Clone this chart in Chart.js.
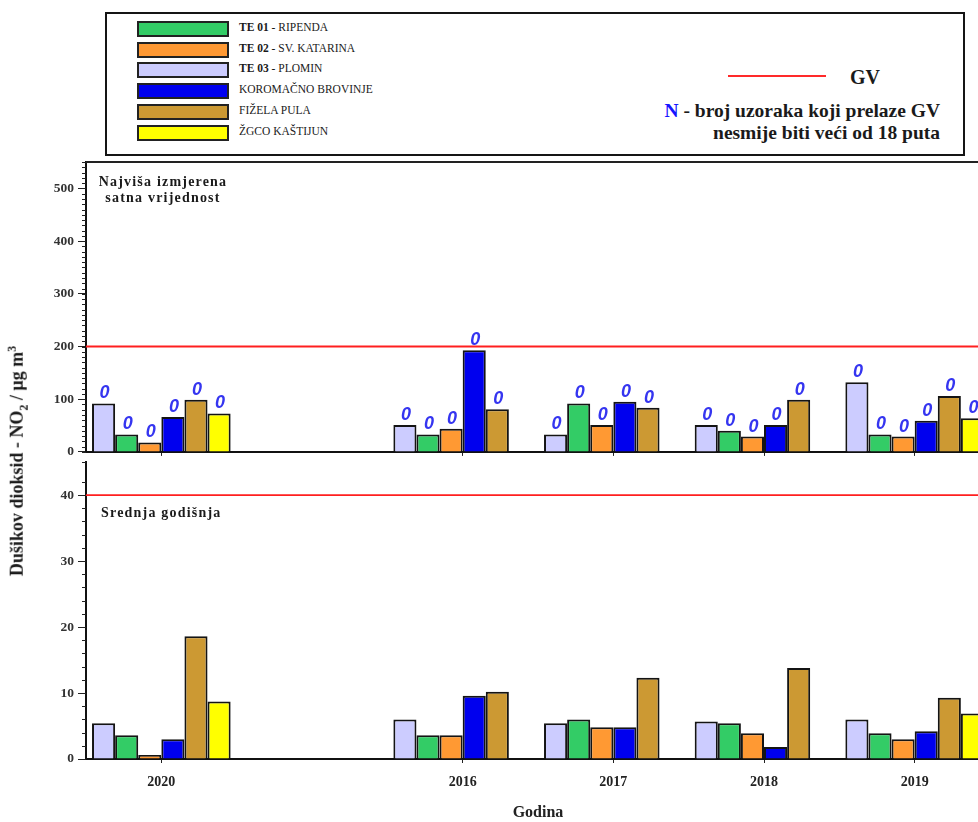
<!DOCTYPE html>
<html>
<head>
<meta charset="utf-8">
<script src="https://cdn.jsdelivr.net/npm/chart.js@4.4.1/dist/chart.umd.min.js"></script>
<style>
  body { margin: 0; width: 978px; height: 822px; overflow: hidden; background: #fff; position: relative;
         font-family: "Liberation Serif", "DejaVu Serif", serif; color: #1a1a1a; }
  .abs { position: absolute; }
  #legend { left: 105px; top: 12px; width: 856px; height: 140px; border: 2px solid #151515; }
  .row { position: absolute; left: 30px; height: 15px; }
  .sw { position: absolute; left: 0; top: 0; width: 88px; height: 12px; border: 2px solid #222; }
  .lab { position: absolute; left: 102px; top: -1px; font-size: 11.5px; white-space: nowrap; line-height: 15px; }
  #gvline { left: 728px; top: 75px; width: 98px; height: 2px; background: #ff2a2a; }
  #gvtext { left: 850px; top: 66px; font-size: 20px; font-weight: bold; }
  #ntext { right: 38px; top: 100px; font-size: 19.5px; font-weight: bold; white-space: nowrap; text-align: right; line-height: 22px; }
  #ytitle { left: 18px; top: 461px; transform: translate(-50%, -50%) rotate(-90deg); white-space: nowrap;
            font-size: 18px; font-weight: bold; }
  #ytitle sub, #ytitle sup { font-size: 12px; }
  .panel { font-size: 14px; font-weight: bold; letter-spacing: 1.2px; text-align: center; line-height: 16px; white-space: nowrap; }
  .wrap { position: absolute; left: 0; width: 1000px; }
</style>
</head>
<body>
<div id="legend" class="abs"></div>
<div id="gvline" class="abs"></div>
<div id="gvtext" class="abs">GV</div>
<div id="ntext" class="abs"><span style="color:#1515ff">N</span> - broj uzoraka koji prelaze GV<br>nesmije biti veći od 18 puta</div>

<div class="wrap" style="top:150px;height:314px"><canvas id="maxChart"></canvas></div>
<div class="wrap" style="top:450px;height:372px"><canvas id="avgChart"></canvas></div>

<div class="abs panel" style="left:88px;top:174px;width:150px">Najviša izmjerena<br>satna vrijednost</div>
<div class="abs panel" style="left:101px;top:505px">Srednja godišnja</div>
<div id="ytitle" class="abs">Dušikov dioksid - NO<sub>2</sub> / μg m<sup>3</sup></div>

<script>
// categories (empty slot between 2020 and 2016)
const years = ['2020', '', '2016', '2017', '2018', '2019'];

const stations = ['TE 03 - PLOMIN', 'TE 01 - RIPENDA', 'TE 02 - SV. KATARINA', 'KOROMAČNO BROVINJE', 'FIŽELA PULA', 'ŽGCO KAŠTIJUN'];
const stationColors = ['#ccccff', '#33cc66', '#ff9933', '#0000ee', '#cc9933', '#ffff00'];
const legendOrder = [1, 2, 0, 3, 4, 5];

// highest measured hourly value
const plominMax    = [92, null, 51, 33, 51, 132];
const ripendaMax   = [33, null, 33, 92, 40, 33];
const katarinaMax  = [18, null, 44, 51, 29, 29];
const koromacnoMax = [66, null, 193, 95, 51, 59];
const fizelaMax    = [99, null, 81, 84, 99, 106];
const zgcoMax      = [73, null, null, null, null, 64];

// N - number of samples above GV
const plominN    = [0, null, 0, 0, 0, 0];
const ripendaN   = [0, null, 0, 0, 0, 0];
const katarinaN  = [0, null, 0, 0, 0, 0];
const koromacnoN = [0, null, 0, 0, 0, 0];
const fizelaN    = [0, null, 0, 0, 0, 0];
const zgcoN      = [0, null, null, null, null, 0];

// annual mean
const plominAvg    = [5.4, null, 6.0, 5.4, 5.7, 6.0];
const ripendaAvg   = [3.6, null, 3.6, 6.0, 5.4, 3.9];
const katarinaAvg  = [0.6, null, 3.6, 4.8, 3.9, 3.0];
const koromacnoAvg = [3.0, null, 9.6, 4.8, 1.8, 4.2];
const fizelaAvg    = [18.6, null, 10.2, 12.3, 13.8, 9.3];
const zgcoAvg      = [8.7, null, null, null, null, 6.9];

const hourlyLimit = 200;
const annualLimit = 40;
const maxTicks = [0, 100, 200, 300, 400, 500];
const avgTicks = [0, 10, 20, 30, 40];

// ---- legend box ----
const legendEl = document.getElementById('legend');
legendOrder.forEach((si, r) => {
    const name = stations[si];
    const label = name.startsWith('TE 0') ? '<b>' + name.slice(0, 5) + '</b>' + name.slice(5) : name;
    const row = document.createElement('div');
    row.className = 'row';
    row.style.top = (7 + r * 20.7) + 'px';
    row.innerHTML = `<div class="sw" style="background:${stationColors[si]}"></div><div class="lab">${label}</div>`;
    legendEl.appendChild(row);
});

// ---- decorations: minor ticks, GV line, N labels, top frame ----
const panelDecor = {
    id: 'panelDecor',
    afterDatasetsDraw(chart, args, opts) {
        const { ctx, chartArea: a, scales: { y } } = chart;
        ctx.save();
        ctx.strokeStyle = '#222';
        ctx.lineWidth = 1;
        y.ticks.forEach(t => {
            const py = Math.round(y.getPixelForValue(t.value)) + 0.5;
            ctx.beginPath();
            ctx.moveTo(a.left - 4, py);
            ctx.lineTo(a.left, py);
            ctx.stroke();
        });

        const ly = y.getPixelForValue(opts.limit);
        ctx.strokeStyle = '#ff1f1f';
        ctx.lineWidth = 1.8;
        ctx.beginPath();
        ctx.moveTo(a.left, ly);
        ctx.lineTo(a.right, ly);
        ctx.stroke();

        if (opts.counts) {
            ctx.fillStyle = '#3535f0';
            ctx.font = 'italic bold 18px "Liberation Sans", Arial, sans-serif';
            ctx.textAlign = 'center';
            ctx.textBaseline = 'bottom';
            chart.data.datasets.forEach((ds, di) => {
                chart.getDatasetMeta(di).data.forEach((bar, i) => {
                    if (ds.data[i] == null || opts.counts[di][i] == null) return;
                    ctx.fillText(String(opts.counts[di][i]), bar.x + 1, bar.y - 1);
                });
            });
        }

        if (opts.frameTop) {
            ctx.strokeStyle = '#222';
            ctx.lineWidth = 2;
            ctx.beginPath();
            ctx.moveTo(a.left, a.top);
            ctx.lineTo(a.right + 20, a.top);
            ctx.stroke();
        }
        ctx.restore();
    }
};

function makeDatasets(series) {
    return series.map((data, i) => ({
        label: stations[i],
        data: data,
        backgroundColor: stationColors[i],
        borderColor: '#141414',
        borderWidth: 2,
        barPercentage: 1.0,
        categoryPercentage: 0.92
    }));
}

const tickFont = { family: '"Liberation Serif", serif', weight: 'bold', size: 13.5 };

function yScale(max, step, labels) {
    return {
        min: 0,
        max: max,
        afterFit: s => { s.width = 86; },
        ticks: {
            stepSize: step,
            autoSkip: false,
            padding: 4,
            color: '#333',
            font: tickFont,
            callback: v => labels.includes(v) ? v : ''
        },
        grid: {
            drawOnChartArea: false,
            tickLength: 8,
            tickColor: c => (c.tick && labels.includes(c.tick.value)) ? '#222' : 'transparent'
        },
        border: { color: '#111', width: 2 }
    };
}

const xGrid = {
    drawOnChartArea: false,
    offset: false,
    tickLength: 4,
    tickColor: c => years[c.index] ? '#222' : 'transparent'
};

new Chart(document.getElementById('maxChart'), {
    type: 'bar',
    data: {
        labels: years,
        datasets: makeDatasets([plominMax, ripendaMax, katarinaMax, koromacnoMax, fizelaMax, zgcoMax])
    },
    options: {
        responsive: true,
        maintainAspectRatio: false,
        animation: false,
        layout: { padding: { top: 8, right: 10, left: 0, bottom: 0 } },
        plugins: {
            legend: { display: false },
            tooltip: { enabled: false },
            panelDecor: {
                limit: hourlyLimit,
                frameTop: true,
                counts: [plominN, ripendaN, katarinaN, koromacnoN, fizelaN, zgcoN]
            }
        },
        scales: {
            x: {
                ticks: { display: false },
                grid: xGrid,
                border: { color: '#111', width: 2 },
                afterFit: s => { s.height = 5; }
            },
            y: yScale(550, 10, maxTicks)
        }
    },
    plugins: [panelDecor]
});

new Chart(document.getElementById('avgChart'), {
    type: 'bar',
    data: {
        labels: years,
        datasets: makeDatasets([plominAvg, ripendaAvg, katarinaAvg, koromacnoAvg, fizelaAvg, zgcoAvg])
    },
    options: {
        responsive: true,
        maintainAspectRatio: false,
        animation: false,
        layout: { padding: { top: 9, right: 10, left: 0, bottom: 0 } },
        plugins: {
            legend: { display: false },
            tooltip: { enabled: false },
            panelDecor: { limit: annualLimit }
        },
        scales: {
            x: {
                ticks: {
                    color: '#222',
                    padding: 11,
                    maxRotation: 0,
                    autoSkip: false,
                    font: { family: '"Liberation Serif", serif', weight: 'bold', size: 14 }
                },
                grid: xGrid,
                border: { color: '#111', width: 2 },
                title: {
                    display: true,
                    text: 'Godina',
                    color: '#222',
                    padding: 0,
                    font: { family: '"Liberation Serif", serif', weight: 'bold', size: 16 }
                },
                afterFit: s => { s.height = 63; }
            },
            y: yScale(45, 2, avgTicks)
        }
    },
    plugins: [panelDecor]
});
</script>
</body>
</html>
